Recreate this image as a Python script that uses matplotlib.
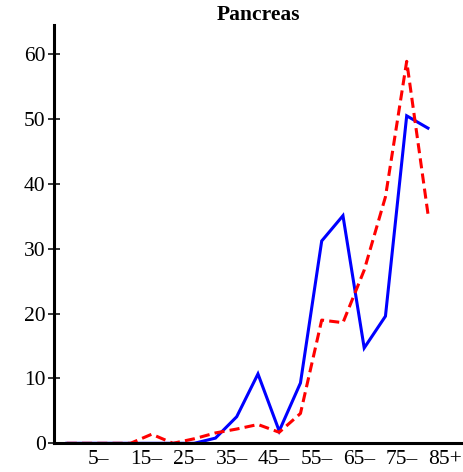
import matplotlib
matplotlib.use("Agg")
import matplotlib.pyplot as plt

# age groups 0-, 5-, ..., 85+
age_groups = ["0–", "5–", "10–", "15–", "20–", "25–", "30–", "35–", "40–",
              "45–", "50–", "55–", "60–", "65–", "70–", "75–", "80–", "85+"]
blue_values = [0, 0, 0, 0, 0, 0, 0, 0.8, 4.1, 10.7, 1.9, 9.3,
               31.2, 35.1, 14.7, 19.6, 50.5, 48.6]
red_values = [0, 0, 0, 0, 1.4, 0, 0.7, 1.6, 2.2, 2.9, 1.7, 4.6,
              19.0, 18.6, 26.7, 38.0, 58.9, 35.4]
tick_labels = ["5–", "15–", "25–", "35–", "45–", "55–", "65–", "75–", "85+"]

plt.rcParams['font.family'] = ['Liberation Serif', 'DejaVu Serif']
plt.rcParams['font.size'] = 15.5

fig = plt.figure(figsize=(4.63, 4.72), dpi=100)
ax = fig.add_axes([0.1166, 0.0608, 0.8834, 0.8862])

x = list(range(len(age_groups)))
ax.plot(x, blue_values, color="#0000ff", lw=2.2, solid_joinstyle="miter")
ax.plot(x, red_values, color="#ff0000", lw=2.2, dashes=(3.3, 1.7))

ax.set_xlim(-0.6, 18.65)
ax.set_ylim(0, 64.5)
ax.set_yticks([0, 10, 20, 30, 40, 50, 60])
ax.set_xticks(x[1::2])
ax.set_xticklabels(tick_labels, ha="left")

for s in ["top", "right"]:
    ax.spines[s].set_visible(False)
ax.spines["left"].set_linewidth(2.2)
ax.spines["bottom"].set_linewidth(2.2)
ax.tick_params(axis="y", direction="inout", length=8, width=1.1, pad=2)
ax.tick_params(axis="x", length=0, pad=5)

ax.set_title("Pancreas", fontweight="bold", fontsize=15.5, pad=-1)

fig.savefig("out.png", dpi=100)
